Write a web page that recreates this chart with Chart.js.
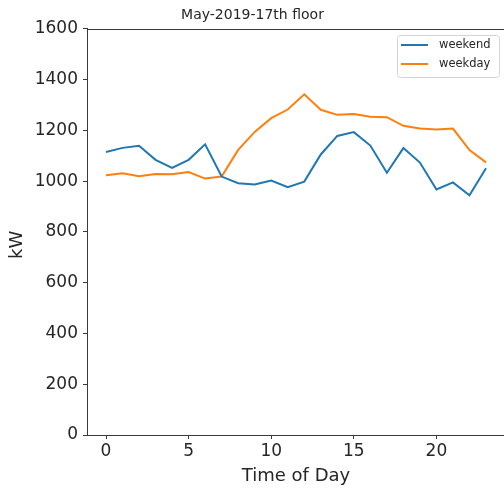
<!DOCTYPE html>
<html>
<head>
<meta charset="utf-8">
<title>May-2019-17th floor</title>
<script src="https://cdn.jsdelivr.net/npm/chart.js@4.4.1/dist/chart.umd.min.js"></script>
<style>
  html, body { margin: 0; padding: 0; background: #fff; overflow: hidden; }
  #wrap { width: 504px; height: 488px; overflow: hidden; }
  #wrap canvas { display: block; }
</style>
</head>
<body>
<div id="wrap"><canvas id="chart" width="512" height="488"></canvas></div>
<script>
// hourly load, kW
const hours = [0, 1, 2, 3, 4, 5, 6, 7, 8, 9, 10, 11, 12, 13, 14, 15, 16, 17, 18, 19, 20, 21, 22, 23];
const weekend = [1115, 1131, 1139, 1084, 1052, 1084, 1145, 1018, 992, 987, 1002, 976,
                 998, 1105, 1178, 1193, 1140, 1033, 1130, 1073, 967, 995, 944, 1051];
const weekday = [1023, 1031, 1019, 1028, 1027, 1036, 1010, 1018, 1123, 1194, 1248, 1282,
                 1342, 1281, 1261, 1264, 1254, 1252, 1218, 1207, 1203, 1207, 1122, 1074];
const xTicks = [0, 5, 10, 15, 20];
const yTicks = [0, 200, 400, 600, 800, 1000, 1200, 1400, 1600];

const FONT = "'DejaVu Sans', sans-serif";
const INK = '#262626';
const SPINE = '#3a3a3a';

// closes the frame on the top and right sides, and writes the y label
const frame = {
  id: 'frame',
  afterDatasetsDraw(chart) {
    const { ctx, chartArea: a } = chart;
    ctx.save();
    ctx.strokeStyle = SPINE;
    ctx.lineWidth = 1;
    ctx.beginPath();
    ctx.moveTo(a.left, Math.round(a.top) + 0.5);
    ctx.lineTo(a.right, Math.round(a.top) + 0.5);
    ctx.lineTo(a.right, a.bottom);
    ctx.stroke();

    ctx.translate(17.5, (a.top + a.bottom) / 2 + 13);
    ctx.rotate(-Math.PI / 2);
    ctx.font = '18px ' + FONT;
    ctx.fillStyle = INK;
    ctx.textAlign = 'center';
    ctx.textBaseline = 'middle';
    ctx.fillText('kW', 0, 0);
    ctx.restore();
  }
};

// boxed legend in the upper right corner of the plot
const boxLegend = {
  id: 'boxLegend',
  afterDraw(chart) {
    const { ctx, chartArea: a } = chart;
    const w = 102, h = 42;
    const x = Math.round(a.right - 6 - w), y = Math.round(a.top + 6);
    ctx.save();
    ctx.fillStyle = 'rgba(255,255,255,0.85)';
    ctx.strokeStyle = '#d4d4d4';
    ctx.lineWidth = 1;
    ctx.beginPath();
    ctx.roundRect(x + 0.5, y + 0.5, w, h, 3);
    ctx.fill();
    ctx.stroke();
    ctx.font = '11.5px ' + FONT;
    ctx.textBaseline = 'middle';
    chart.data.datasets.forEach((ds, i) => {
      const ly = y + 10 + i * 19;
      ctx.strokeStyle = ds.borderColor;
      ctx.lineWidth = 2;
      ctx.beginPath();
      ctx.moveTo(x + 4, ly);
      ctx.lineTo(x + 31, ly);
      ctx.stroke();
      ctx.fillStyle = INK;
      ctx.fillText(ds.label, x + 42, ly);
    });
    ctx.restore();
  }
};

new Chart(document.getElementById('chart'), {
  type: 'line',
  data: {
    labels: hours,
    datasets: [
      {
        label: 'weekend',
        data: hours.map((h, i) => ({ x: h, y: weekend[i] })),
        borderColor: '#1f77b4',
        borderWidth: 2,
        pointRadius: 0,
        tension: 0
      },
      {
        label: 'weekday',
        data: hours.map((h, i) => ({ x: h, y: weekday[i] })),
        borderColor: '#ff7f0e',
        borderWidth: 2,
        pointRadius: 0,
        tension: 0
      }
    ]
  },
  options: {
    responsive: false,
    animation: false,
    layout: { padding: { left: 0, right: 7, top: 0, bottom: 0 } },
    scales: {
      x: {
        type: 'linear',
        min: -1.15,
        max: 24.15,
        afterFit: s => { s.height = 53; },
        afterBuildTicks: s => { s.ticks = xTicks.map(v => ({ value: v })); },
        grid: { drawOnChartArea: false, tickLength: 4, color: SPINE },
        border: { color: SPINE },
        ticks: { color: INK, font: { size: 17, family: FONT }, padding: 2, maxRotation: 0, callback: v => String(v) },
        title: {
          display: true,
          text: 'Time of Day',
          color: INK,
          font: { size: 18, family: FONT },
          padding: { top: 0, bottom: 1 }
        }
      },
      y: {
        min: 0,
        max: 1600,
        afterFit: s => { s.width = 87; },
        afterBuildTicks: s => { s.ticks = yTicks.map(v => ({ value: v })); },
        grid: { drawOnChartArea: false, tickLength: 4, color: SPINE },
        border: { color: SPINE },
        ticks: { color: INK, font: { size: 17, family: FONT }, padding: 5, callback: v => String(v) }
      }
    },
    plugins: {
      legend: { display: false },
      tooltip: { enabled: false },
      title: {
        display: true,
        text: 'May-2019-17th floor',
        color: INK,
        font: { size: 14, family: FONT, weight: 'normal' },
        padding: { top: 7, bottom: 5 }
      }
    }
  },
  plugins: [frame, boxLegend]
});
</script>
</body>
</html>
